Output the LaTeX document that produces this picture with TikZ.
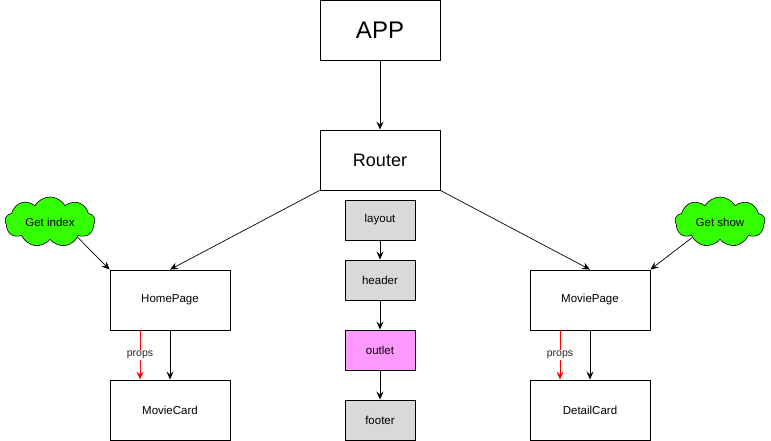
\documentclass[tikz,border=0pt]{standalone}
\usepackage{fontspec}
\setmainfont{Liberation Sans}
\usetikzlibrary{arrows.meta,shapes.symbols}
\definecolor{boxgray}{HTML}{D9D9D9}
\definecolor{outletpink}{HTML}{FF99FF}
\definecolor{cloudgreen}{HTML}{33FF00}
\begin{document}
\begin{tikzpicture}[x=1pt,y=-1pt,
  box/.style={draw=black,line width=0.9pt,fill=white,minimum width=120pt,minimum height=60pt,inner sep=0pt,font=\fontsize{11.5}{13}\selectfont},
  smallbox/.style={draw=black,line width=0.9pt,fill=boxgray,minimum width=70pt,minimum height=40pt,inner sep=0pt,font=\fontsize{11.5}{13}\selectfont},
  cloudnode/.style={cloud,cloud puffs=9,cloud puff arc=120,draw=black,line width=0.6pt,fill=cloudgreen,minimum width=90pt,minimum height=50pt,aspect=1.8,inner sep=0pt,font=\fontsize{11.5}{13}\selectfont},
  arr/.style={-{Stealth[length=8pt,width=7pt,inset=3pt]},line width=0.9pt},
  thinarr/.style={-{Stealth[length=8pt,width=7pt,inset=3pt]},line width=0.7pt}
]
\useasboundingbox (0,0) rectangle (771,441);
\node[box,font=\fontsize{24}{28}\selectfont] (app) at (380,30) {APP};
\node[box,font=\fontsize{18}{22}\selectfont] (router) at (380,160) {Router};
\node[smallbox] (layout) at (380,220) {layout};
\node[smallbox] (header) at (380,280) {header};
\node[smallbox,fill=outletpink] (outlet) at (380,350) {outlet};
\node[smallbox] (footer) at (380,420) {footer};
\node[box] (home) at (170,300) {HomePage};
\node[box] (moviecard) at (170,410) {MovieCard};
\node[box] (moviepage) at (590,300) {MoviePage};
\node[box] (detail) at (590,410) {DetailCard};
\node[cloudnode] (getindex) at (50,222) {Get index};
\node[cloudnode] (getshow) at (720,222) {Get show};

\draw[arr] (app) -- (router);
\draw[thinarr] (router.south west) -- (home.north);
\draw[thinarr] (router.south east) -- (moviepage.north);
\draw[thinarr] (getindex.south east) -- (home.north west);
\draw[thinarr] (getshow.south west) -- (moviepage.north east);
\draw[arr] (layout) -- (header);
\draw[arr] (header) -- (outlet);
\draw[arr] (outlet) -- (footer);
\draw[arr] (home) -- (moviecard);
\draw[arr] (moviepage) -- (detail);
\draw[arr,red] ([xshift=-30pt]home.south) -- node[fill=white,text=black!85,inner sep=1pt,font=\fontsize{10.5}{12}\selectfont]{props} ([xshift=-30pt]moviecard.north);
\draw[arr,red] ([xshift=-30pt]moviepage.south) -- node[fill=white,text=black!85,inner sep=1pt,font=\fontsize{10.5}{12}\selectfont]{props} ([xshift=-30pt]detail.north);
\end{tikzpicture}
\end{document}
